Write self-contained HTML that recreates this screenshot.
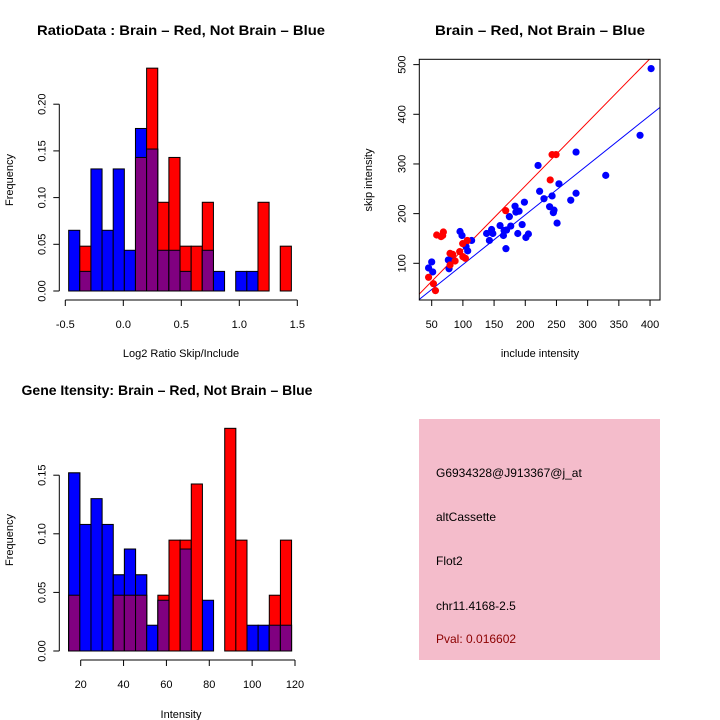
<!DOCTYPE html>
<html><head><meta charset="utf-8"><style>
html,body{margin:0;padding:0;background:#fff}
svg{display:block;font-family:"Liberation Sans",Arial,sans-serif}
</style></head><body>
<svg id="c" width="720" height="720" viewBox="0 0 720 720">
<rect width="720" height="720" fill="#fff"/>
<g>
<rect x="419" y="419" width="241" height="241" fill="#f4bccb"/>
<text x="436" y="477" font-size="12" fill="#000">G6934328@J913367@j_at</text>
<text x="436" y="521" font-size="12" fill="#000">altCassette</text>
<text x="436" y="565" font-size="12" fill="#000">Flot2</text>
<text x="436" y="610" font-size="12" fill="#000">chr11.4168-2.5</text>
<text x="436" y="643" font-size="12" fill="#8b0000">Pval: 0.016602</text>
</g>
</svg>
<script>
// Top-left histogram data
const ratioBinStart = -0.471;
const ratioBinWidth = 0.096;
const ratioBlue = [0.065,0.021,0.1307,0.065,0.1307,0.0436,0.174,0.152,0.0436,0.0436,0.021,0,0.0436,0.021,0,0.021,0.021,0,0,0];
const ratioRed  = [0,0.048,0,0,0,0,0.143,0.2386,0.095,0.143,0.048,0.048,0.095,0,0,0,0,0.095,0,0.048];
const ratioXTicks = [-0.5,0,0.5,1,1.5];
const ratioXLabels = ["-0.5","0.0","0.5","1.0","1.5"];
const ratioYTicks = [0,0.05,0.1,0.15,0.2];
const ratioYLabels = ["0.00","0.05","0.10","0.15","0.20"];
// Bottom-left histogram data
const intBinStart = 14.4;
const intBinWidth = 5.2;
const intBlue = [0.152,0.108,0.130,0.108,0.065,0.087,0.065,0.022,0.0433,0,0.087,0,0.0433,0,0,0,0.022,0.022,0.022,0.022];
const intRed  = [0.0476,0,0,0,0.0476,0.0476,0.0476,0,0.0476,0.0946,0.0946,0.1425,0,0,0.19,0.0946,0,0,0.0476,0.0946];
const intXTicks = [20,40,60,80,100,120];
const intYTicks = [0,0.05,0.1,0.15];
const intYLabels = ["0.00","0.05","0.10","0.15"];
// Scatter data
const blueInclude = [401.7,384,329,281.4,281.4,272.9,254,251,246,245,243,239,230,223,220.5,198.6,205,201,195,188,190,185,183.6,174.5,176.7,170,165,169,166,159.6,146,148,142.5,138,114,107.7,105,98.6,95.4,82,76.7,77.8,50,45,51.6];
const blueSkip    = [492,357.7,277,324,241,227,260,181,207,202,235.6,214,230,245,297,223,159,152,178,160,205,203,215,194,175,167,156,129.5,166,176,168,160,146,160,146,125,133.6,156,164,108.7,106.7,89,102.7,90.6,82.6];
const redInclude  = [249.3,243,240,168.6,107,99.7,104,100,94.9,79.4,83.7,87.5,79.4,68.7,67.6,65,58,45,52.7,56];
const redSkip     = [318.8,318.8,267.8,206,146,139.6,110,113.4,123.5,120,118,104.7,96.6,163,156,153.7,157,71.8,59,45];
const redFit  = [1.281,-0.4];
const blueFit = [1.002,-2.8];
const scXTicks = [50,100,150,200,250,300,350,400];
const scYTicks = [100,200,300,400,500];

const NS="http://www.w3.org/2000/svg";
const svg=document.getElementById('c');
function mk(tag,attrs,parent){const e=document.createElementNS(NS,tag);for(const k in attrs)e.setAttribute(k,attrs[k]);(parent||svg).appendChild(e);return e;}
function txt(x,y,s,size,extra,parent){const e=mk('text',Object.assign({x:x,y:y,'font-size':size,'text-anchor':'middle',fill:'#000'},extra||{}),parent);e.textContent=s;return e;}

function hist(cfg){
  const g=mk('g',{});
  
  
  const sx=v=>cfg.x0+(v-cfg.xv0)*cfg.xs;
  const sy=v=>cfg.y0-v*cfg.ys;
  for(let i=0;i<cfg.blue.length;i++){
    const a=sx(cfg.start+i*cfg.w), b=sx(cfg.start+(i+1)*cfg.w);
    const bl=cfg.blue[i], rd=cfg.red[i];
    if(bl>0){const r=mk('rect',{x:a,y:sy(bl),width:b-a,height:bl*cfg.ys,fill:'#0000ff',stroke:'#000','stroke-width':1},g);
      }
    if(rd>0){const r=mk('rect',{x:a,y:sy(rd),width:b-a,height:rd*cfg.ys,fill:'#ff0000',stroke:'#000','stroke-width':1},g);
      }
    const m=Math.min(bl,rd);
    if(m>0){
      if(bl>rd){const r=mk('rect',{x:a,y:sy(bl),width:b-a,height:bl*cfg.ys,fill:'#0000ff',stroke:'#000','stroke-width':1},g);}
      const r=mk('rect',{x:a,y:sy(m),width:b-a,height:m*cfg.ys,fill:'#800080',stroke:'#000','stroke-width':1},g);
      }
  }
  const yt=cfg.yticks;
  mk('line',{x1:cfg.yaxX,x2:cfg.yaxX,y1:sy(yt[0]),y2:sy(yt[yt.length-1]),stroke:'#000'},g);
  yt.forEach((v,i)=>{mk('line',{x1:cfg.yaxX-6,x2:cfg.yaxX,y1:sy(v),y2:sy(v),stroke:'#000'},g);
    const t=txt(cfg.yaxX-14,sy(v),cfg.ylabels[i],11,{transform:`rotate(-90 ${cfg.yaxX-14} ${sy(v)})`},g);
    });
  const xt=cfg.xticks;
  mk('line',{x1:sx(xt[0]),x2:sx(xt[xt.length-1]),y1:cfg.xaxY,y2:cfg.xaxY,stroke:'#000'},g);
  xt.forEach((v,i)=>{mk('line',{x1:sx(v),x2:sx(v),y1:cfg.xaxY,y2:cfg.xaxY+6,stroke:'#000'},g);
    const t=txt(sx(v),cfg.xaxY+28,cfg.xlabels[i],11,{},g);
    });
  const tattrs={'font-weight':'bold'};
  if(cfg.titleLen){tattrs.textLength=cfg.titleLen;tattrs.lengthAdjust='spacingAndGlyphs';}
  const tt=txt(cfg.titleX,cfg.titleY,cfg.title,14,tattrs,g);
  
  const xl=txt(cfg.xlX,cfg.xlY,cfg.xlab,11,{},g);
  
  const yl=txt(13,cfg.ylY,'Frequency',11,{transform:`rotate(-90 13 ${cfg.ylY})`},g);
  
}
hist({name:'ratio-histogram',start:ratioBinStart,w:ratioBinWidth,blue:ratioBlue,red:ratioRed,
  x0:123.3,xv0:0,xs:116,y0:291,ys:934,yaxX:59.3,xaxY:300,
  yticks:ratioYTicks,ylabels:ratioYLabels,xticks:ratioXTicks,xlabels:ratioXLabels,
  title:'RatioData : Brain – Red, Not Brain – Blue',titleX:181,titleY:35,titleLen:288,xlab:'Log2 Ratio Skip/Include',xlX:181,xlY:357,ylY:180});
hist({name:'intensity-histogram',start:intBinStart,w:intBinWidth,blue:intBlue,red:intRed,
  x0:80.7,xv0:20,xs:2.143,y0:651,ys:1172,yaxX:59.3,xaxY:660,
  yticks:intYTicks,ylabels:intYLabels,xticks:intXTicks,xlabels:intXTicks.map(String),
  title:'Gene Itensity: Brain – Red, Not Brain – Blue',titleX:167,titleY:395,xlab:'Intensity',xlX:181,xlY:718,ylY:540});

(function(){
  const g=mk('g',{});
  
  
  const L=419.3,R=660,T=59.3,B=300;
  const sx=v=>431.7+(v-50)*0.6238;
  const sy=v=>263.3-(v-100)*0.4967;
  const clip=mk('clipPath',{id:'scclip'},g);mk('rect',{x:L,y:T,width:R-L,height:B-T},clip);
  const xa=(L-431.7)/0.6238+50, xb=(R-431.7)/0.6238+50;
  [[redFit,'#ff0000','red-fit-line'],[blueFit,'#0000ff','blue-fit-line']].forEach(f=>{
    const l=mk('line',{x1:sx(xa),y1:sy(f[0][0]*xa+f[0][1]),x2:sx(xb),y2:sy(f[0][0]*xb+f[0][1]),stroke:f[1],'stroke-width':1,'clip-path':'url(#scclip)'},g);
    });
  blueInclude.forEach((v,i)=>{const c=mk('circle',{cx:sx(v),cy:sy(blueSkip[i]),r:3.6,fill:'#0000ff'},g);
    });
  redInclude.forEach((v,i)=>{const c=mk('circle',{cx:sx(v),cy:sy(redSkip[i]),r:3.6,fill:'#ff0000'},g);
    });
  mk('rect',{x:L,y:T,width:R-L,height:B-T,fill:'none',stroke:'#000'},g);
  scXTicks.forEach(v=>{mk('line',{x1:sx(v),x2:sx(v),y1:B,y2:B+6,stroke:'#000'},g);
    const t=txt(sx(v),B+28,String(v),11,{},g);});
  scYTicks.forEach(v=>{mk('line',{x1:L-6,x2:L,y1:sy(v),y2:sy(v),stroke:'#000'},g);
    const t=txt(L-14,sy(v),String(v),11,{transform:`rotate(-90 ${L-14} ${sy(v)})`},g);});
  const tt=txt(540,35,'Brain – Red, Not Brain – Blue',14,{'font-weight':'bold',textLength:210,lengthAdjust:'spacingAndGlyphs'},g);
  
  const xl=txt(540,357,'include intensity',11,{},g);
  
  const yl=txt(372,180,'skip intensity',11,{transform:'rotate(-90 372 180)'},g);
  
})();
</script>
</body></html>
